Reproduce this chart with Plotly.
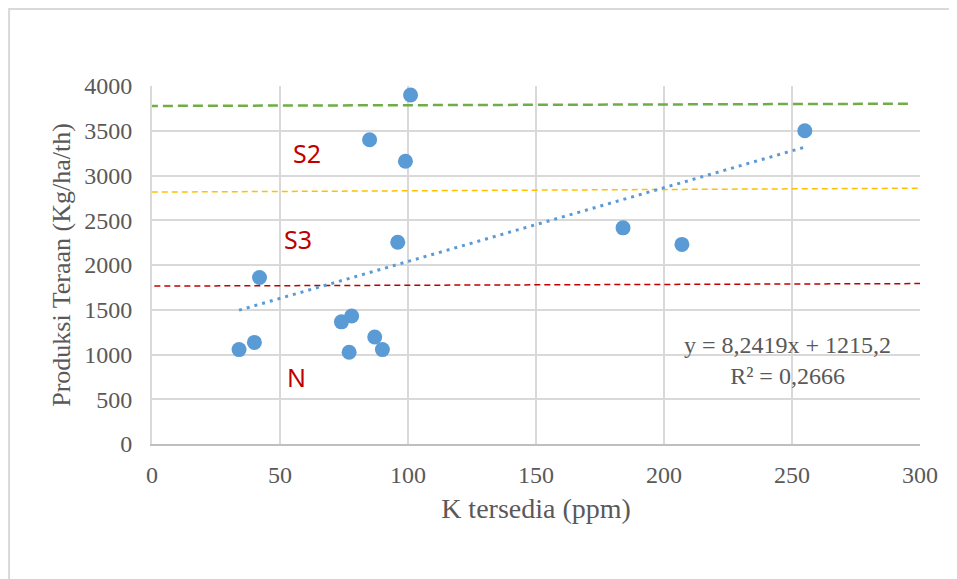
import plotly.graph_objects as go

# Data points: K tersedia (ppm) vs Produksi Teraan (Kg/ha/th)
k_ppm = [101, 85, 99, 96, 42, 78, 74, 87, 40, 34, 77, 90, 255, 184, 207]
produksi = [3900, 3400, 3160, 2255, 1860, 1430, 1365, 1195, 1135, 1055, 1025, 1055, 3500, 2415, 2230]

# Linear trendline (from the equation shown on the chart)
slope = 8.2419
intercept = 1215.2
r_squared = "0,2666"
trend_x = [min(k_ppm), max(k_ppm)]
trend_y = [slope * v + intercept for v in trend_x]

# Class boundary lines (hand-drawn, slightly tilted)
s1_x, s1_y = [-1.6, 296], [3777, 3802]
s2_x, s2_y = [-4, 305], [2814, 2859]
s3_x, s3_y = [-3, 306], [1764, 1793]

# Zone labels
zone_labels = ["S2", "S3", "N"]
zone_x = [60.6, 56.9, 56.3]
zone_y = [3252, 2292, 746]

x_ticks = [0, 50, 100, 150, 200, 250, 300]
y_ticks = [0, 500, 1000, 1500, 2000, 2500, 3000, 3500, 4000]

fig = go.Figure()

fig.add_trace(go.Scatter(x=s1_x, y=s1_y, mode="lines",
                         line=dict(color="#70AD47", width=2.5, dash="10px,5px"),
                         showlegend=False, hoverinfo="skip"))
fig.add_trace(go.Scatter(x=s2_x, y=s2_y, mode="lines",
                         line=dict(color="#FFC000", width=1.5, dash="6px,4px"),
                         showlegend=False, hoverinfo="skip"))
fig.add_trace(go.Scatter(x=s3_x, y=s3_y, mode="lines",
                         line=dict(color="#C00000", width=1.5, dash="6px,4px"),
                         showlegend=False, hoverinfo="skip"))
fig.add_trace(go.Scatter(x=trend_x, y=trend_y, mode="lines",
                         line=dict(color="#5B9BD5", width=3, dash="3px,5px"),
                         showlegend=False, hoverinfo="skip"))
fig.add_trace(go.Scatter(x=k_ppm, y=produksi, mode="markers",
                         marker=dict(color="#5B9BD5", size=15),
                         showlegend=False))

for t, xx, yy in zip(zone_labels, zone_x, zone_y):
    fig.add_annotation(x=xx, y=yy, text=t, showarrow=False,
                       font=dict(family="Noto Sans", size=25, color="#C00000"))

fig.add_annotation(x=248.4, y=930,
                   text=f"y = {str(slope).replace('.', ',')}x + {str(intercept).replace('.', ',')}<br>R² = {r_squared}",
                   showarrow=False, align="center",
                   font=dict(family="Liberation Serif", size=24, color="#595959"))

# outer chart frame
fig.add_shape(type="rect", xref="paper", yref="paper",
              x0=-0.1861, x1=1.2, y0=-0.5, y1=1.2149,
              line=dict(color="#D9D9D9", width=2), layer="below")

tick_font = dict(family="Liberation Serif", size=24, color="#595959")

fig.update_xaxes(range=[0, 300], tickvals=x_ticks, showgrid=True,
                 gridcolor="#D9D9D9", gridwidth=2, zeroline=False,
                 showline=True, linecolor="#BFBFBF", linewidth=2,
                 tickfont=tick_font, ticklabelstandoff=8, automargin=False,
                 title=dict(text="K tersedia (ppm)",
                            font=dict(family="Liberation Serif", size=28, color="#595959"),
                            standoff=12))
fig.update_yaxes(range=[0, 4000], tickvals=y_ticks, showgrid=True,
                 gridcolor="#D9D9D9", gridwidth=2, zeroline=False,
                 showline=True, linecolor="#D9D9D9", linewidth=2,
                 tickfont=tick_font, ticklabelstandoff=13, automargin=False,
                 title=dict(text="Produksi Teraan (Kg/ha/th)",
                            font=dict(family="Liberation Serif", size=26, color="#595959"),
                            standoff=6))

fig.update_layout(width=949, height=571,
                  margin=dict(l=144, r=36.5, t=78, b=134.7),
                  plot_bgcolor="white", paper_bgcolor="white")

fig.write_html("out.html")
